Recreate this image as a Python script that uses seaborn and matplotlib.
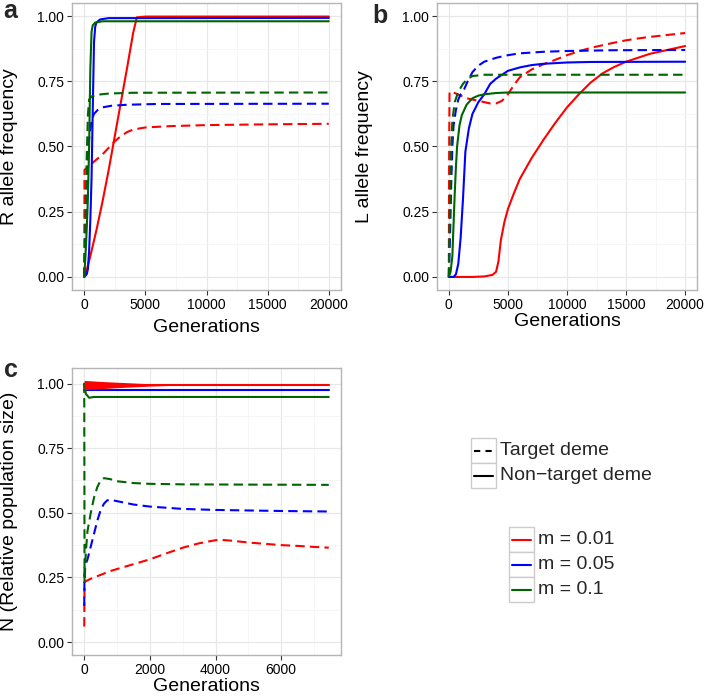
import numpy as np
import pandas as pd
import matplotlib
matplotlib.use("Agg")
import matplotlib.pyplot as plt
import seaborn as sns
from matplotlib.patches import Rectangle
from matplotlib.lines import Line2D

sns.set_theme(style="white")
plt.rcParams['font.family'] = ['Liberation Sans', 'DejaVu Sans']

# ---------------- data ----------------
m_levels = ["m = 0.01", "m = 0.05", "m = 0.1"]
deme_levels = ["Target deme", "Non-target deme"]
deme_labels = ["Target deme", "Non\u2212target deme"]
colors = ["#FF0000", "#0000FF", "#006400"]

# Panel a: R allele frequency
a_red_nt_x = [0, 250, 500, 1000, 1500, 2000, 2500, 3000, 3500, 4000, 4300, 5000, 20000]
a_red_nt_y = [0, 0.035, 0.08, 0.18, 0.29, 0.41, 0.54, 0.67, 0.80, 0.935, 0.995, 0.998, 0.998]
a_blue_nt_x = [0, 200, 300, 400, 500, 600, 700, 800, 900, 1000, 1300, 2000, 20000]
a_blue_nt_y = [0, 0.01, 0.03, 0.10, 0.22, 0.38, 0.65, 0.90, 0.96, 0.975, 0.987, 0.992, 0.993]
a_green_nt_x = [0, 100, 200, 300, 400, 500, 600, 700, 900, 1500, 20000]
a_green_nt_y = [0, 0.08, 0.18, 0.30, 0.50, 0.80, 0.94, 0.965, 0.975, 0.98, 0.98]
a_red_t_x = [0, 20, 500, 1000, 1500, 2000, 2500, 3000, 3500, 4000, 5000, 7000, 10000, 15000, 20000]
a_red_t_y = [0, 0.41, 0.43, 0.45, 0.47, 0.495, 0.52, 0.54, 0.555, 0.565, 0.573, 0.578, 0.582, 0.585, 0.587]
a_blue_t_x = [0, 100, 200, 300, 400, 600, 800, 1100, 1500, 2200, 3500, 6000, 20000]
a_blue_t_y = [0, 0.15, 0.30, 0.45, 0.53, 0.60, 0.625, 0.64, 0.65, 0.656, 0.66, 0.663, 0.664]
a_green_t_x = [0, 100, 200, 300, 400, 600, 1000, 2000, 4000, 20000]
a_green_t_y = [0, 0.20, 0.45, 0.62, 0.68, 0.692, 0.698, 0.703, 0.706, 0.707]

# Panel b: L allele frequency
b_red_nt_x = [0, 1000, 2000, 3000, 3700, 4000, 4200, 4400, 4700, 5000, 5500, 6000, 7000, 8000,
              9000, 10000, 11000, 12000, 13000, 14000, 15000, 16000, 17000, 18000, 19000, 20000]
b_red_nt_y = [0, 0, 0, 0.002, 0.008, 0.02, 0.06, 0.14, 0.21, 0.26, 0.32, 0.375, 0.455, 0.525,
              0.59, 0.65, 0.70, 0.745, 0.78, 0.805, 0.825, 0.84, 0.855, 0.865, 0.875, 0.885]
b_blue_nt_x = [0, 400, 600, 800, 1000, 1200, 1400, 1700, 2000, 2500, 3000, 3500, 4000, 5000,
               6000, 7000, 8000, 10000, 12000, 20000]
b_blue_nt_y = [0, 0, 0.01, 0.05, 0.15, 0.30, 0.48, 0.57, 0.625, 0.67, 0.70, 0.74, 0.76, 0.79,
               0.803, 0.812, 0.817, 0.822, 0.824, 0.825]
b_green_nt_x = [0, 150, 300, 400, 500, 600, 700, 900, 1100, 1500, 2000, 2500, 3000, 4000, 5000, 20000]
b_green_nt_y = [0, 0.02, 0.08, 0.20, 0.32, 0.42, 0.50, 0.58, 0.62, 0.66, 0.685, 0.695, 0.70, 0.705, 0.707, 0.707]
b_red_t_x = [0, 30, 60, 500, 1000, 1500, 2000, 2500, 3000, 3500, 4000, 4500, 5000, 5500, 6000,
             7000, 8000, 9000, 10000, 11000, 12000, 13000, 14000, 15000, 16000, 17000, 18000, 19000, 20000]
b_red_t_y = [0, 0.5, 0.71, 0.705, 0.695, 0.685, 0.68, 0.675, 0.67, 0.665, 0.665, 0.675, 0.70, 0.735,
             0.765, 0.795, 0.815, 0.832, 0.85, 0.865, 0.878, 0.888, 0.898, 0.907, 0.914, 0.92, 0.925, 0.93, 0.935]
b_blue_t_x = [0, 100, 200, 300, 400, 600, 800, 1000, 1300, 1600, 2000, 2500, 3000, 4000, 5000,
              6000, 8000, 10000, 14000, 20000]
b_blue_t_y = [0, 0.15, 0.35, 0.50, 0.58, 0.64, 0.68, 0.70, 0.72, 0.75, 0.785, 0.81, 0.825, 0.84,
              0.85, 0.857, 0.863, 0.866, 0.869, 0.87]
b_green_t_x = [0, 100, 200, 300, 500, 800, 1200, 1600, 2000, 3000, 20000]
b_green_t_y = [0, 0.30, 0.50, 0.60, 0.67, 0.71, 0.74, 0.76, 0.77, 0.775, 0.775]

# Panel c: relative population size
c_red_nt_x = [0, 7450]
c_red_nt_y = [0.995, 0.995]
c_red_env_x = [0, 500, 1000, 1500, 2000, 2500, 3000]
c_red_env_hi = [1.012, 1.008, 1.005, 1.002, 0.999, 0.997, 0.996]
c_red_env_lo = [0.976, 0.980, 0.984, 0.987, 0.990, 0.992, 0.994]
c_blue_nt_x = [0, 7450]
c_blue_nt_y = [0.974, 0.974]
c_green_nt_x = [0, 50, 150, 300, 7450]
c_green_nt_y = [1.0, 0.96, 0.945, 0.948, 0.948]
c_red_t_x = [0, 10, 200, 500, 800, 1200, 1600, 2000, 2500, 3000, 3500, 4000, 4200, 4500, 5000,
             5500, 6000, 6500, 7000, 7450]
c_red_t_y = [0.06, 0.233, 0.245, 0.26, 0.275, 0.29, 0.305, 0.32, 0.343, 0.365, 0.382, 0.394, 0.395,
             0.392, 0.385, 0.38, 0.375, 0.372, 0.368, 0.365]
c_blue_t_x = [0, 10, 100, 200, 300, 400, 500, 600, 700, 800, 1000, 1500, 2000, 3000, 4000, 5000, 6000, 7450]
c_blue_t_y = [0.14, 0.29, 0.32, 0.37, 0.42, 0.47, 0.51, 0.535, 0.548, 0.55, 0.545, 0.532, 0.524,
              0.515, 0.511, 0.509, 0.507, 0.505]
c_green_t_x = [0, 10, 50, 100, 200, 300, 400, 500, 600, 800, 1000, 1500, 2000, 3000, 5000, 7450]
c_green_t_y = [1.0, 0.23, 0.35, 0.43, 0.50, 0.56, 0.60, 0.625, 0.634, 0.63, 0.622, 0.615, 0.612,
               0.61, 0.609, 0.608]


def frame(series):
    rows = []
    for m, deme, xs, ys in series:
        for x, y in zip(xs, ys):
            rows.append((x, y, m, deme))
    return pd.DataFrame(rows, columns=["Generations", "value", "m", "deme"])


df_a = frame([
    (m_levels[0], deme_levels[0], a_red_t_x, a_red_t_y),
    (m_levels[1], deme_levels[0], a_blue_t_x, a_blue_t_y),
    (m_levels[2], deme_levels[0], a_green_t_x, a_green_t_y),
    (m_levels[0], deme_levels[1], a_red_nt_x, a_red_nt_y),
    (m_levels[1], deme_levels[1], a_blue_nt_x, a_blue_nt_y),
    (m_levels[2], deme_levels[1], a_green_nt_x, a_green_nt_y),
])
df_b = frame([
    (m_levels[0], deme_levels[0], b_red_t_x, b_red_t_y),
    (m_levels[1], deme_levels[0], b_blue_t_x, b_blue_t_y),
    (m_levels[2], deme_levels[0], b_green_t_x, b_green_t_y),
    (m_levels[0], deme_levels[1], b_red_nt_x, b_red_nt_y),
    (m_levels[1], deme_levels[1], b_blue_nt_x, b_blue_nt_y),
    (m_levels[2], deme_levels[1], b_green_nt_x, b_green_nt_y),
])
df_c = frame([
    (m_levels[0], deme_levels[0], c_red_t_x, c_red_t_y),
    (m_levels[1], deme_levels[0], c_blue_t_x, c_blue_t_y),
    (m_levels[2], deme_levels[0], c_green_t_x, c_green_t_y),
    (m_levels[0], deme_levels[1], c_red_nt_x, c_red_nt_y),
    (m_levels[1], deme_levels[1], c_blue_nt_x, c_blue_nt_y),
    (m_levels[2], deme_levels[1], c_green_nt_x, c_green_nt_y),
])

palette = dict(zip(m_levels, colors))
dash_pat = (4.5, 2.5)
dashes = {"Target deme": dash_pat, "Non-target deme": ""}

W, H = 714, 697
fig = plt.figure(figsize=(W / 100, H / 100), dpi=100)
fig.patch.set_facecolor("white")


def px_axes(l, t, r, b):
    return fig.add_axes([l / W, 1 - b / H, (r - l) / W, (b - t) / H])


ax_a = px_axes(72, 3, 341, 290)
ax_b = px_axes(437, 3, 697, 290)
ax_c = px_axes(72, 368, 341, 655)


def draw(ax, df):
    sns.lineplot(data=df, x="Generations", y="value", hue="m", style="deme",
                 hue_order=m_levels, style_order=deme_levels, palette=palette,
                 dashes=dashes, estimator=None, sort=False, linewidth=1.5,
                 legend=False, ax=ax)


draw(ax_a, df_a)
draw(ax_b, df_b)
draw(ax_c, df_c)
ax_c.fill_between(c_red_env_x, c_red_env_lo, c_red_env_hi, color=colors[0], lw=0, zorder=3)


def style(ax, xmax, xmajor, xminor, ylabel, ylab_x, xlab_y, ylim):
    ax.set_facecolor("white")
    ax.set_xlim(-0.05 * xmax, 1.05 * xmax)
    ax.set_ylim(*ylim)
    ax.set_xticks(xmajor)
    ax.set_xticks(xminor, minor=True)
    ax.set_yticks([0, 0.25, 0.5, 0.75, 1.0])
    ax.set_yticks([0.125, 0.375, 0.625, 0.875], minor=True)
    ax.set_yticklabels(["0.00", "0.25", "0.50", "0.75", "1.00"])
    ax.set_xticklabels([str(v) for v in xmajor])
    ax.grid(which="major", color="#e8e8e8", lw=0.9)
    ax.grid(which="minor", color="#f5f5f5", lw=0.6)
    ax.set_axisbelow(True)
    for s in ax.spines.values():
        s.set_color("#b5b5b5")
        s.set_linewidth(1.0)
    ax.tick_params(which="major", length=3.5, width=0.8, color="#333333", pad=2,
                   labelsize=10, labelcolor="black", bottom=True, left=True)
    ax.tick_params(which="minor", length=0)
    ax.set_xlabel("Generations", fontsize=14, color="black")
    ax.set_ylabel(ylabel, fontsize=14, color="black")
    ax.yaxis.set_label_coords(ylab_x, 0.5)
    ax.xaxis.set_label_coords(0.5, xlab_y)


style(ax_a, 20000, [0, 5000, 10000, 15000, 20000], [2500, 7500, 12500, 17500],
      "R allele frequency", -0.20, -0.10, (-0.05, 1.05))
style(ax_b, 20000, [0, 5000, 10000, 15000, 20000], [2500, 7500, 12500, 17500],
      "L allele frequency", -0.245, -0.08, (-0.05, 1.05))
style(ax_c, 7450, [0, 2000, 4000, 6000], [1000, 3000, 5000, 7000],
      "N (Relative population size)", -0.20, -0.08, (-0.05, 1.06))

# panel letters
fig.text(3 / W, 1 - 18 / H, "a", fontsize=18, fontweight="bold", va="baseline")
fig.text(372 / W, 1 - 23 / H, "b", fontsize=18, fontweight="bold", va="baseline")
fig.text(4 / W, 1 - 377 / H, "c", fontsize=18, fontweight="bold", va="baseline")


# legends (key boxes, key lines and labels, placed in figure pixels)
def legend_block(x0, y0, labels, line_colors, line_styles, size=25):
    for i, (lab, col, ls) in enumerate(zip(labels, line_colors, line_styles)):
        top = y0 + i * size
        fig.add_artist(Rectangle((x0 / W, 1 - (top + size) / H), size / W, size / H,
                                 transform=fig.transFigure, facecolor="white",
                                 edgecolor="#cccccc", lw=1.0))
        yc = 1 - (top + size / 2) / H
        fig.add_artist(Line2D([(x0 + 3) / W, (x0 + size - 3) / W], [yc, yc],
                              transform=fig.transFigure, color=col, lw=1.5, linestyle=ls))
        fig.text((x0 + size + 4) / W, yc, lab, fontsize=14, va="center", ha="left")


legend_block(471, 438, deme_labels, ["black", "black"], [(0, (3.0, 2.5)), "-"])
legend_block(509, 527, m_levels, colors, ["-", "-", "-"])

fig.savefig("out.png", dpi=100)
